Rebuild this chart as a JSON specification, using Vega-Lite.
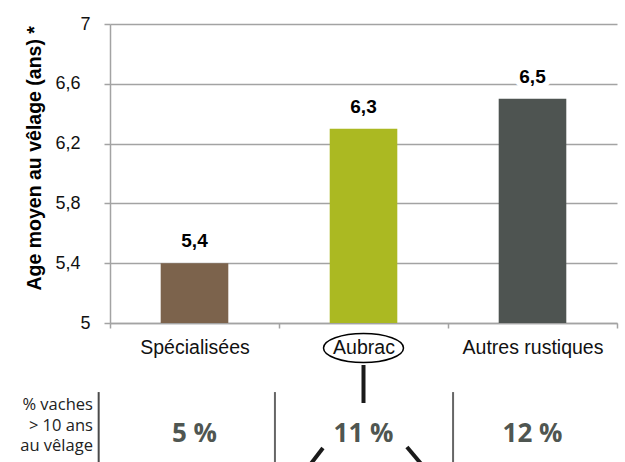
{
  "$schema": "https://vega.github.io/schema/vega-lite/v6.json",
  "width": 507,
  "height": 299,
  "autosize": {"type": "none"},
  "padding": {"left": 110, "top": 24, "right": 8, "bottom": 139},
  "background": "white",
  "config": {"view": {"stroke": null}, "font": "Liberation Sans"},
  "datasets": {
    "bars": [
      {"cat": "Spécialisées", "age": 5.4, "label": "5,4", "pct": "5 %"},
      {"cat": "Aubrac", "age": 6.3, "label": "6,3", "pct": "11 %"},
      {"cat": "Autres rustiques", "age": 6.5, "label": "6,5", "pct": "12 %"}
    ],
    "focus": [{"cat": "Aubrac"}],
    "note": [{"text": "% vaches\n> 10 ans\nau vêlage"}]
  },
  "layer": [
    {
      "data": {"name": "bars"},
      "layer": [
        {
          "mark": {"type": "bar", "width": {"band": 0.4}},
          "encoding": {
            "x": {
              "field": "cat", "type": "nominal",
              "scale": {"type": "band", "domain": ["Spécialisées", "Aubrac", "Autres rustiques"], "paddingInner": 0, "paddingOuter": 0},
              "axis": {
                "title": null, "labelAngle": 0, "tickBand": "extent", "tickSize": 5,
                "tickColor": "#a3a3a3", "tickWidth": 1.5, "domainColor": "#a3a3a3", "domainWidth": 1.5,
                "labelFontSize": 19.5, "labelColor": "#111111", "labelPadding": 10, "labelFont": "Liberation Sans"
              }
            },
            "y": {
              "field": "age", "type": "quantitative",
              "scale": {"domain": [5, 7], "nice": false, "zero": false},
              "axis": {
                "title": "Age moyen au vêlage (ans) *",
                "values": [5, 5.4, 5.8, 6.2, 6.6, 7],
                "labelExpr": "replace(toString(datum.value), '.', ',')",
                "grid": true, "gridColor": "#a3a3a3", "gridWidth": 1.5,
                "domainColor": "#a3a3a3", "domainWidth": 1.5,
                "tickColor": "#a3a3a3", "tickWidth": 1.5, "tickSize": 6,
                "labelFontSize": 18, "labelColor": "#111111", "labelPadding": 24, "labelFont": "Liberation Sans",
                "labelAlign": {"condition": {"test": "datum.value == 5 || datum.value == 7", "value": "left"}, "value": "right"},
                "titleFontSize": 19.5, "titleFontWeight": "bold", "titleColor": "#000000", "titleFont": "Liberation Sans",
                "titleAngle": -90, "titleAlign": "left", "titleBaseline": "alphabetic",
                "titleX": -70, "titleY": 266
              }
            },
            "y2": {"datum": 5},
            "color": {
              "field": "cat", "type": "nominal",
              "scale": {"domain": ["Spécialisées", "Aubrac", "Autres rustiques"], "range": ["#7c634c", "#abb922", "#4e5451"]},
              "legend": null
            }
          }
        },
        {
          "mark": {"type": "text", "dy": -16, "baseline": "alphabetic", "fontSize": 19, "fontWeight": "bold", "font": "Liberation Sans", "stroke": "white", "strokeWidth": 11, "strokeJoin": "round", "fill": "white"},
          "encoding": {
            "x": {"field": "cat", "type": "nominal"},
            "y": {"field": "age", "type": "quantitative"},
            "text": {"field": "label"}
          }
        },
        {
          "mark": {"type": "text", "dy": -16, "baseline": "alphabetic", "fontSize": 19, "fontWeight": "bold", "font": "Liberation Sans", "fill": "#000000"},
          "encoding": {
            "x": {"field": "cat", "type": "nominal"},
            "y": {"field": "age", "type": "quantitative"},
            "text": {"field": "label"}
          }
        },
        {
          "mark": {"type": "text", "baseline": "alphabetic", "font": "Open Sans", "fontSize": 26, "fontWeight": "bold", "fill": "#4f5651"},
          "encoding": {
            "x": {"field": "cat", "type": "nominal"},
            "y": {"datum": 4.204},
            "text": {"field": "pct"}
          }
        },
        {
          "data": {"name": "focus"},
          "mark": {"type": "point", "shape": "M-1,0A1,0.3625,0,1,1,1,0A1,0.3625,0,1,1,-1,0Z", "size": 6400, "filled": false, "stroke": "#000000", "strokeWidth": 1.5, "opacity": 1},
          "encoding": {
            "x": {"field": "cat", "type": "nominal"},
            "y": {"datum": 4.833}
          }
        },
        {
          "data": {"name": "focus"},
          "mark": {"type": "rule", "stroke": "#1a1a1a", "strokeWidth": 4},
          "encoding": {
            "x": {"field": "cat", "type": "nominal"},
            "y": {"datum": 4.719},
            "y2": {"datum": 4.465}
          }
        }
      ]
    },
    {
      "data": {"values": [{}]},
      "layer": [
        {
          "mark": {"type": "rule", "stroke": "#4a4a4a", "strokeWidth": 2},
          "encoding": {
            "x": {"datum": -0.067, "type": "quantitative", "scale": {"domain": [0, 3], "nice": false, "zero": false}, "axis": null},
            "y": {"datum": 4.538},
            "y2": {"datum": 4.0}
          }
        },
        {
          "mark": {"type": "rule", "stroke": "#666666", "strokeWidth": 2},
          "encoding": {
            "x": {"datum": 0.976, "type": "quantitative", "axis": null},
            "y": {"datum": 4.538},
            "y2": {"datum": 4.0}
          }
        },
        {
          "mark": {"type": "rule", "stroke": "#666666", "strokeWidth": 2},
          "encoding": {
            "x": {"datum": 2.03, "type": "quantitative", "axis": null},
            "y": {"datum": 4.538},
            "y2": {"datum": 4.0}
          }
        },
        {
          "data": {"name": "note"},
          "mark": {"type": "text", "align": "right", "baseline": "alphabetic", "lineBreak": "\n", "lineHeight": 20.5, "font": "Open Sans", "fontSize": 16.5, "fill": "#222222"},
          "encoding": {
            "x": {"datum": -0.101, "type": "quantitative", "axis": null},
            "y": {"datum": 4.418},
            "text": {"field": "text"}
          }
        },
        {
          "mark": {"type": "rule", "stroke": "#1a1a1a", "strokeWidth": 4},
          "encoding": {
            "x": {"datum": 1.26, "type": "quantitative", "axis": null},
            "x2": {"datum": 1.178},
            "y": {"datum": 4.164},
            "y2": {"datum": 4.043}
          }
        },
        {
          "mark": {"type": "rule", "stroke": "#1a1a1a", "strokeWidth": 4},
          "encoding": {
            "x": {"datum": 1.757, "type": "quantitative", "axis": null},
            "x2": {"datum": 1.852},
            "y": {"datum": 4.171},
            "y2": {"datum": 4.043}
          }
        }
      ]
    }
  ],
  "resolve": {"scale": {"x": "independent"}}
}
